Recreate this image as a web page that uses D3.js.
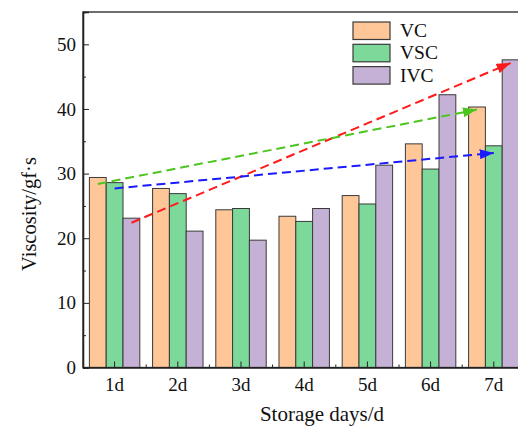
<!DOCTYPE html>
<html>
<head>
<meta charset="utf-8">
<script src="https://cdn.jsdelivr.net/npm/d3@7"></script>
<style>
  body { margin: 0; background: #fff; }
  text { font-family: "Liberation Serif", "Times New Roman", serif; fill: #111; }
</style>
</head>
<body>
<svg id="chart" width="518" height="428"></svg>
<script>
const days = ["1d", "2d", "3d", "4d", "5d", "6d", "7d"];
const seriesNames = ["VC", "VSC", "IVC"];
const vcValues  = [29.4, 27.7, 24.4, 23.4, 26.6, 34.6, 40.3];
const vscValues = [28.6, 26.9, 24.6, 22.6, 25.3, 30.7, 34.3];
const ivcValues = [23.1, 21.1, 19.7, 24.6, 31.3, 42.2, 47.6];
const yTicks = [0, 10, 20, 30, 40, 50];
const yMinorTicks = [5, 15, 25, 35, 45];

// trend arrows: series, start value at 1d, end value at 7d
const trendSeries = ["IVC", "VC", "VSC"];
const trendStart  = [22.4, 28.4, 27.7];
const trendEnd    = [47.1, 39.9, 33.2];
const trendColors = ["#ff1a1a", "#4cc51f", "#1a1aff"];

const colors = {VC: "#ffc697", VSC: "#7dd99a", IVC: "#c5b1d6"};

const svg = d3.select("#chart");
const margin = {left: 83, top: 12};
const plotW = 442.4, plotH = 355.5;

const x = d3.scaleBand().domain(days).range([margin.left, margin.left + plotW]);
const xSub = d3.scaleBand().domain(seriesNames).range([0, x.bandwidth()]).paddingOuter(0.38);
const y = d3.scaleLinear().domain([0, 55]).range([margin.top + plotH, margin.top]);

const rows = days.map((d, i) => ({day: d, VC: vcValues[i], VSC: vscValues[i], IVC: ivcValues[i]}));

// bars
const groups = svg.append("g").selectAll("g").data(rows).join("g")
  .attr("transform", d => `translate(${x(d.day)},0)`);
groups.selectAll("rect")
  .data(d => seriesNames.map(s => ({s, v: d[s]})))
  .join("rect")
  .attr("x", d => xSub(d.s))
  .attr("width", xSub.bandwidth())
  .attr("y", d => y(d.v))
  .attr("height", d => y(0) - y(d.v))
  .attr("fill", d => colors[d.s])
  .attr("stroke", "#3a3a3a")
  .attr("stroke-width", 1);

// frame
svg.append("rect")
  .attr("x", margin.left).attr("y", margin.top)
  .attr("width", plotW).attr("height", plotH)
  .attr("fill", "none").attr("stroke", "#222").attr("stroke-width", 1.3);

// axes
svg.append("g")
  .attr("transform", `translate(${margin.left},0)`)
  .call(d3.axisLeft(y).tickValues(yTicks).tickSize(-6).tickPadding(7));
svg.append("g")
  .attr("transform", `translate(${margin.left},0)`)
  .call(d3.axisLeft(y).tickValues(yMinorTicks).tickSize(-3).tickFormat(""));

svg.append("g")
  .attr("transform", `translate(0,${y(0)})`)
  .call(d3.axisBottom(x).tickSize(-6).tickSizeOuter(0).tickPadding(10));
svg.append("g")
  .selectAll("line").data(days.slice(1)).join("line")
  .attr("x1", d => x(d)).attr("x2", d => x(d))
  .attr("y1", y(0)).attr("y2", y(0) - 3)
  .attr("stroke", "#222");

svg.selectAll(".domain").attr("stroke", "#222").attr("stroke-width", 1.3);
svg.selectAll(".tick line").attr("stroke", "#222");
svg.selectAll(".tick text").style("font-family", "'Liberation Serif', 'Times New Roman', serif")
  .style("font-size", "19px").attr("fill", "#111");

// trend arrows
const defs = svg.append("defs");
trendColors.forEach((c, i) => {
  defs.append("marker")
    .attr("id", "arrow" + i)
    .attr("viewBox", "0 0 14 10")
    .attr("refX", 14).attr("refY", 5)
    .attr("markerWidth", 14).attr("markerHeight", 10)
    .attr("markerUnits", "userSpaceOnUse")
    .attr("orient", "auto")
    .append("path").attr("d", "M0,0L14,5L0,10Z").attr("fill", c);
});
trendSeries.forEach((s, i) => {
  const cx = d => x(d) + xSub(s) + xSub.bandwidth() / 2;
  svg.append("line")
    .attr("x1", cx(days[0])).attr("y1", y(trendStart[i]))
    .attr("x2", cx(days[days.length - 1])).attr("y2", y(trendEnd[i]))
    .attr("stroke", trendColors[i])
    .attr("stroke-width", 2)
    .attr("stroke-dasharray", "9,5")
    .attr("marker-end", `url(#arrow${i})`);
});

// legend
const legend = svg.append("g").attr("transform", "translate(353,22)");
seriesNames.forEach((s, i) => {
  legend.append("rect")
    .attr("x", 0).attr("y", i * 22.3)
    .attr("width", 37).attr("height", 17.5)
    .attr("fill", colors[s]).attr("stroke", "#3a3a3a").attr("stroke-width", 1.2);
  legend.append("text")
    .attr("x", 47).attr("y", i * 22.3 + 15)
    .style("font-size", "19.5px")
    .text(s);
});

// axis titles
svg.append("text")
  .attr("x", 322).attr("y", 421)
  .attr("text-anchor", "middle")
  .style("font-size", "21px")
  .text("Storage days/d");
svg.append("text")
  .attr("transform", "translate(36,214) rotate(-90)")
  .attr("text-anchor", "middle")
  .style("font-size", "20.5px")
  .text("Viscosity/gf·s");
</script>
</body>
</html>
